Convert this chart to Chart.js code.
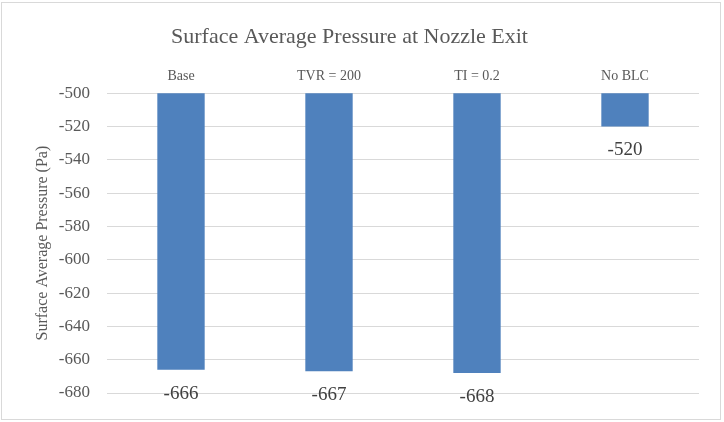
<!DOCTYPE html>
<html>
<head>
<meta charset="utf-8">
<script src="https://cdn.jsdelivr.net/npm/chart.js@4/dist/chart.umd.min.js"></script>
<style>
  body { margin: 0; background: #fff; }
  #box { position: absolute; left: 1px; top: 2px; width: 718px; height: 416px; border: 1px solid #d9d9d9; }
  #wrap { position: absolute; left: 0; top: 0; width: 724px; height: 422px; }
</style>
</head>
<body>
<div id="box"></div>
<div id="wrap"><canvas id="myChart" width="724" height="422"></canvas></div>
<script>
// hodnoty z grafu
const categories = ['Base', 'TVR = 200', 'TI = 0.2', 'No BLC'];
const pressures = [-666, -667, -668, -520];
const yTicks = [-500, -520, -540, -560, -580, -600, -620, -640, -660, -680];

const fontFam = "'Liberation Serif', serif";
const textColor = '#595959';

// popisky hodnot pod koncom stlpca
const valueLabels = {
    id: 'valueLabels',
    afterDatasetsDraw(chart) {
        const ctx = chart.ctx;
        const meta = chart.getDatasetMeta(0);
        ctx.save();
        ctx.font = '19px ' + fontFam;
        ctx.fillStyle = '#404040';
        ctx.textAlign = 'center';
        ctx.textBaseline = 'middle';
        meta.data.forEach((bar, i) => {
            ctx.fillText(String(pressures[i]), bar.x, bar.y + 24);
        });
        ctx.restore();
    }
};

const ctx = document.getElementById('myChart').getContext('2d');
new Chart(ctx, {
    type: 'bar',
    data: {
        labels: categories,
        datasets: [{
            data: pressures,
            backgroundColor: '#4f81bd',
            borderWidth: 0,
            barPercentage: 0.32,
            categoryPercentage: 1
        }]
    },
    options: {
        responsive: false,
        animation: false,
        layout: { padding: { left: 0, right: 25, top: 0, bottom: 29 } },
        plugins: {
            legend: { display: false },
            tooltip: { enabled: false },
            title: {
                display: true,
                text: 'Surface Average Pressure at Nozzle Exit',
                color: textColor,
                font: { family: fontFam, size: 22, weight: 'normal' },
                padding: { top: 24, bottom: 18 }
            }
        },
        scales: {
            x: {
                position: 'top',
                grid: { display: false },
                border: { display: false },
                ticks: { color: textColor, font: { family: fontFam, size: 14 }, padding: 0 }
            },
            y: {
                min: -680,
                max: -500,
                afterBuildTicks: scale => { scale.ticks = yTicks.map(v => ({ value: v })); },
                afterFit: scale => { scale.width = 107; },
                grid: { color: '#d9d9d9', drawTicks: false },
                border: { display: false },
                ticks: { color: textColor, font: { family: fontFam, size: 17 }, padding: 17 },
                title: {
                    display: true,
                    text: 'Surface Average Pressure (Pa)',
                    color: textColor,
                    font: { family: fontFam, size: 16 },
                    padding: { top: 33, bottom: 0 }
                }
            }
        }
    },
    plugins: [valueLabels]
});
</script>
</body>
</html>
